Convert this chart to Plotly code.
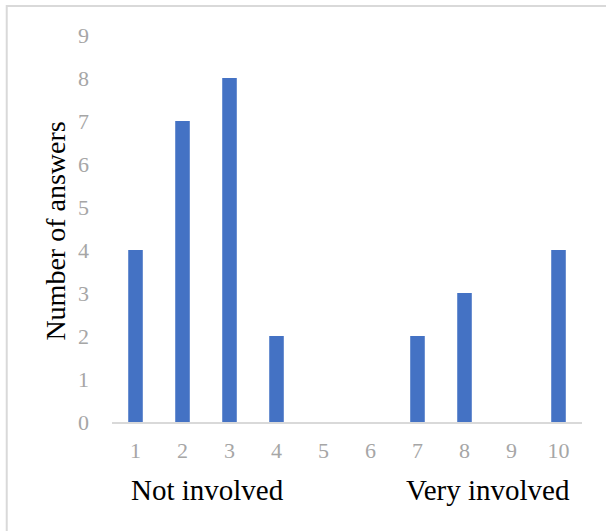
import plotly.graph_objects as go

# Involvement scale (1 = not involved, 10 = very involved)
ratings = ["1", "2", "3", "4", "5", "6", "7", "8", "9", "10"]
answers = [4, 7, 8, 2, 0, 0, 2, 3, 0, 4]
y_ticks = [0, 1, 2, 3, 4, 5, 6, 7, 8, 9]

W, H = 606, 531
L, R, T, B = 111.5, 23.5, 35, 109
pw, ph = W - L - R, H - T - B


def px_x(x):
    return (x - L) / pw


def px_y(y):
    return (H - B - y) / ph


SERIF = "Liberation Serif, Times New Roman, serif"

fig = go.Figure(
    go.Bar(
        x=ratings,
        y=answers,
        marker=dict(color="#4472C4", line=dict(width=0)),
        width=0.31,
        hoverinfo="x+y",
    )
)

fig.update_layout(
    width=W,
    height=H,
    margin=dict(l=L, r=R, t=T, b=B, pad=0),
    paper_bgcolor="white",
    plot_bgcolor="white",
    showlegend=False,
    font=dict(family=SERIF),
    xaxis=dict(
        type="category",
        showgrid=False,
        zeroline=False,
        showline=True,
        linecolor="#D9D9D9",
        linewidth=2,
        ticks="",
        tickfont=dict(size=22, color="#A6A6A6", family=SERIF),
        ticklabelstandoff=8,
    ),
    yaxis=dict(
        range=[0, 9],
        tickvals=y_ticks,
        showgrid=False,
        zeroline=False,
        showline=False,
        ticks="",
        tickfont=dict(size=22, color="#A6A6A6", family=SERIF),
        ticklabelstandoff=22,
    ),
    annotations=[
        dict(
            text="Number of answers",
            xref="paper", yref="paper",
            x=px_x(54), y=px_y(231),
            xanchor="center", yanchor="middle",
            textangle=-90, showarrow=False,
            font=dict(size=28, color="black", family=SERIF),
        ),
        dict(
            text="Not involved",
            xref="paper", yref="paper",
            x=px_x(207.5), y=px_y(490),
            xanchor="center", yanchor="middle",
            showarrow=False,
            font=dict(size=29, color="black", family=SERIF),
        ),
        dict(
            text="Very involved",
            xref="paper", yref="paper",
            x=px_x(488.5), y=px_y(490),
            xanchor="center", yanchor="middle",
            showarrow=False,
            font=dict(size=29, color="black", family=SERIF),
        ),
    ],
    shapes=[
        dict(
            type="rect",
            xref="paper", yref="paper",
            x0=px_x(6), x1=px_x(700),
            y0=px_y(600), y1=px_y(6),
            line=dict(color="#D9D9D9", width=2),
            fillcolor="rgba(0,0,0,0)",
            layer="below",
        )
    ],
)

fig.write_html("out.html")
